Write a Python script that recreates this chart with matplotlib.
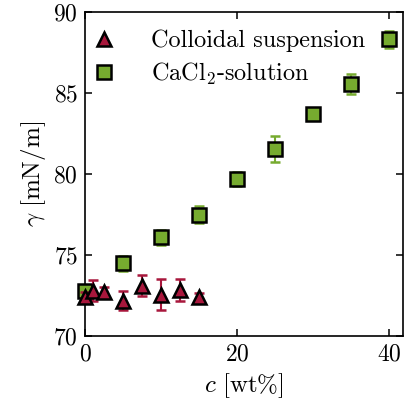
import numpy as np
import matplotlib.pyplot as plt
from matplotlib.lines import Line2D

plt.rcParams['font.family'] = 'serif'
plt.rcParams['font.serif'] = ['cmr10']
plt.rcParams['mathtext.fontset'] = 'cm'
plt.rcParams['axes.unicode_minus'] = False
plt.rcParams['axes.formatter.use_mathtext'] = True

# CaCl2 solution
c_salt = [0, 5, 10, 15, 20, 25, 30, 35, 40]
g_salt = [72.8, 74.5, 76.1, 77.5, 79.7, 81.55, 83.7, 85.55, 88.3]
e_salt = [0.35, 0.45, 0.45, 0.5, 0.45, 0.8, 0.35, 0.6, 0.5]

# colloidal suspension
c_coll = [0, 1, 2.5, 5, 7.5, 10, 12.5, 15]
g_coll = [72.4, 72.8, 72.75, 72.2, 73.1, 72.55, 72.85, 72.4]
e_coll = [0.3, 0.65, 0.3, 0.6, 0.65, 0.95, 0.65, 0.25]

red = '#a8173c'
green = '#76ab2f'

fig = plt.figure(figsize=(4.05, 4.08), dpi=100)
ax = fig.add_axes([0.21, 0.176, 0.785, 0.795])

ax.errorbar(c_salt, g_salt, yerr=e_salt, fmt='s', ms=9.5, mfc=green, mec='k', mew=1.8,
            ecolor=green, elinewidth=1.5, capsize=3.5, capthick=1.5,
            clip_on=False, zorder=3)
ax.errorbar(c_coll, g_coll, yerr=e_coll, fmt='^', ms=9.5, mfc=red, mec='k', mew=1.8,
            ecolor=red, elinewidth=1.5, capsize=3.5, capthick=1.5,
            clip_on=False, zorder=4)

ax.set_xlim(0, 41.8)
ax.set_ylim(70, 90)
ax.set_xticks([0, 20, 40])
ax.set_yticks([70, 75, 80, 85, 90])
ax.tick_params(direction='in', top=True, right=True, labelsize=17, length=5, width=1.1, pad=5)
for s in ax.spines.values():
    s.set_linewidth(1.2)

ax.set_xlabel(r'$c\ [\mathrm{wt\%}]$', fontsize=18, labelpad=4)
ax.set_ylabel(r'$\gamma\ [\mathrm{mN/m}]$', fontsize=18, labelpad=4)

handles = [
    Line2D([], [], ls='none', marker='^', ms=9.5, mfc=red, mec='k', mew=1.8, label='Colloidal suspension'),
    Line2D([], [], ls='none', marker='s', ms=9.5, mfc=green, mec='k', mew=1.8, label=r'CaCl$_2$-solution'),
]
ax.legend(handles=handles, loc='upper left', bbox_to_anchor=(-0.045, 0.99), frameon=False,
          fontsize=17.5, handletextpad=1.2, borderaxespad=0.2, handlelength=1.5,
          labelspacing=0.35)

fig.savefig('out.png', dpi=100)
